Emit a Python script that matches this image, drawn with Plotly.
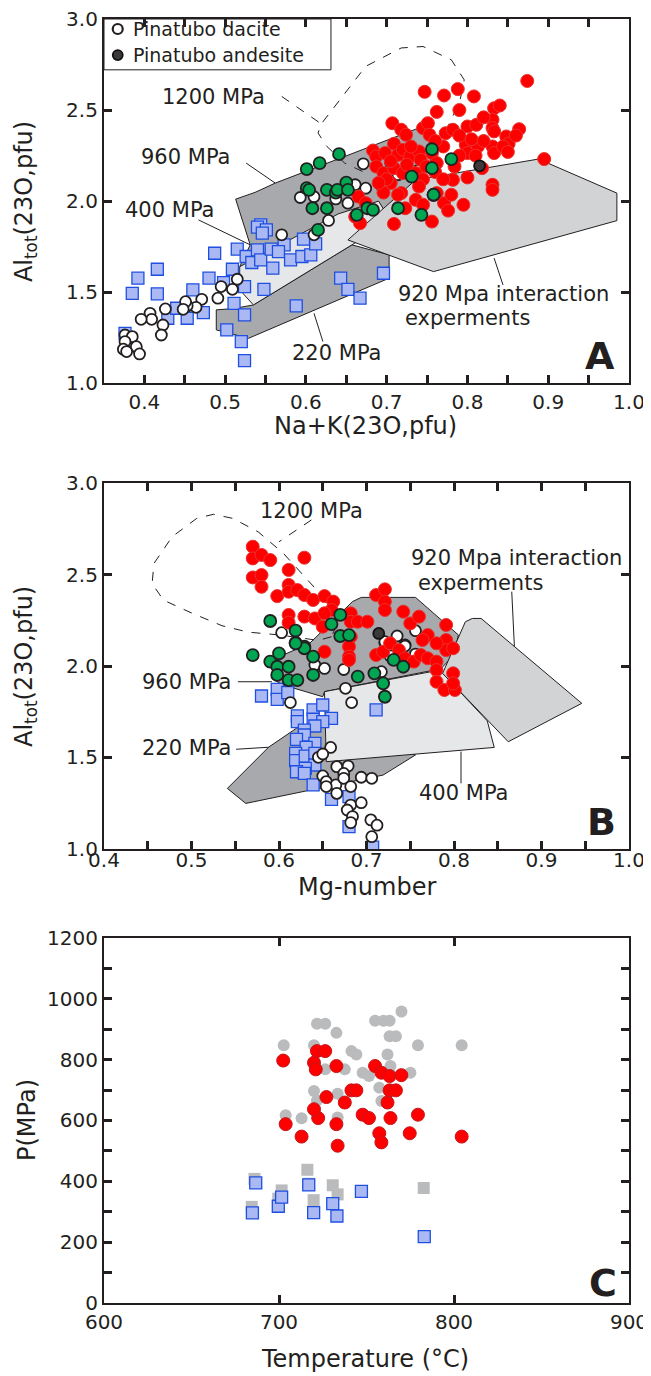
import plotly.graph_objects as go

# ---------------- Panel A data (Na+K vs Al_tot) ----------------
A_red_x = [0.874,0.747,0.771,0.788,0.808,0.762,0.833,0.840,0.831,0.707,0.718,0.724,0.745,0.751,0.753,0.773,0.782,0.800,0.811,0.831,0.864,0.848,0.851,0.833,0.798,0.800,0.813,0.831,0.833,0.844,0.895,0.683,0.687,0.698,0.709,0.714,0.720,0.729,0.740,0.742,0.756,0.782,0.831,0.687,0.696,0.709,0.720,0.762,0.818,0.784,0.736,0.749,0.705,0.718,0.665,0.674,0.696,0.714,0.736,0.745,0.771,0.776,0.780,0.795,0.831,0.667,0.709,0.756,0.661,0.723,0.762,0.700,0.745,0.790,0.770,0.805,0.760,0.725,0.760,0.790,0.810,0.820,0.740,0.690,0.770,0.800,0.850,0.860,0.790,0.820,0.730,0.705]
A_red_y = [2.66,2.60,2.58,2.615,2.575,2.49,2.51,2.525,2.447,2.428,2.392,2.364,2.401,2.428,2.364,2.373,2.392,2.410,2.419,2.401,2.395,2.355,2.315,2.383,2.309,2.264,2.300,2.300,2.264,2.300,2.231,2.278,2.245,2.264,2.315,2.254,2.282,2.245,2.273,2.227,2.264,2.117,2.090,2.190,2.154,2.181,2.154,2.209,2.181,2.190,2.154,2.190,2.099,2.044,2.025,1.989,2.047,2.035,2.007,1.980,1.989,1.948,2.035,1.980,2.062,1.879,1.875,1.888,1.915,1.961,2.044,2.120,2.120,2.250,2.300,2.340,2.160,2.200,2.330,2.360,2.250,2.330,2.080,2.100,2.120,2.130,2.270,2.360,2.500,2.460,2.300,2.220]
A_green_x = [0.641,0.617,0.601,0.601,0.626,0.650,0.637,0.756,0.780,0.756,0.731,0.758,0.608,0.626,0.663,0.676,0.683,0.714,0.743,0.758,0.615,0.639,0.652,0.604]
A_green_y = [2.258,2.209,2.176,2.071,2.062,2.102,2.047,2.285,2.231,2.181,2.135,2.035,1.961,1.961,1.925,1.961,1.952,1.961,1.925,2.035,1.842,2.062,2.062,2.062]
A_and_x = [0.815]
A_and_y = [2.194]
A_dac_x = [0.671,0.705,0.701,0.714,0.740,0.661,0.674,0.694,0.593,0.610,0.637,0.652,0.628,0.570,0.610,0.515,0.509,0.495,0.491,0.471,0.464,0.453,0.451,0.448,0.426,0.407,0.409,0.396,0.423,0.421,0.376,0.385,0.376,0.390,0.374,0.378,0.394]
A_dac_y = [2.205,2.209,2.135,2.145,2.172,2.090,2.071,2.080,2.020,2.024,2.012,1.989,1.894,1.815,1.815,1.571,1.516,1.531,1.467,1.461,1.417,1.425,1.448,1.406,1.408,1.384,1.351,1.351,1.320,1.265,1.265,1.256,1.229,1.201,1.187,1.174,1.161]
A_sq_x = [0.544,0.540,0.551,0.546,0.487,0.515,0.526,0.540,0.533,0.544,0.557,0.573,0.566,0.581,0.595,0.606,0.612,0.597,0.559,0.509,0.498,0.480,0.460,0.416,0.392,0.385,0.416,0.524,0.548,0.511,0.524,0.473,0.453,0.429,0.440,0.376,0.502,0.520,0.524,0.588,0.643,0.652,0.667,0.696]
A_sq_y = [1.870,1.857,1.842,1.824,1.714,1.736,1.696,1.732,1.663,1.677,1.736,1.760,1.723,1.677,1.696,1.705,1.765,1.791,1.632,1.626,1.553,1.577,1.513,1.626,1.577,1.494,1.491,1.531,1.516,1.439,1.375,1.388,1.357,1.357,1.412,1.274,1.293,1.229,1.124,1.425,1.577,1.516,1.467,1.604]

# Panel A fields
A960_x = [0.513,0.537,0.562,0.736,0.745,0.765,0.740,0.660,0.518,0.531]
A960_y = [2.011,2.048,2.099,2.395,2.373,2.300,2.120,1.800,1.640,1.760]
A220_x = [0.489,0.489,0.529,0.703,0.703,0.657,0.535,0.510]
A220_y = [1.403,1.293,1.247,1.577,1.705,1.760,1.430,1.410]
A400_x = [0.518,0.518,0.535,0.657,0.705,0.690,0.640]
A400_y = [1.640,1.513,1.430,1.760,1.890,2.000,1.930]
A920_x = [0.652,0.736,0.888,0.985,0.985,0.758]
A920_y = [1.787,2.117,2.231,2.044,1.893,1.613]
A1200_x = [0.670,0.648,0.626,0.615,0.619,0.674,0.718,0.745,0.780,0.796,0.791,0.780,0.765]
A1200_y = [2.163,2.209,2.300,2.374,2.424,2.740,2.841,2.849,2.776,2.666,2.557,2.447,2.319]

# ---------------- Panel B data (Mg-number vs Al_tot) ----------------
B_red_x = [0.570,0.570,0.580,0.590,0.629,0.570,0.580,0.580,0.611,0.598,0.611,0.611,0.621,0.629,0.639,0.652,0.662,0.660,0.611,0.611,0.629,0.641,0.652,0.650,0.682,0.682,0.690,0.701,0.711,0.721,0.721,0.721,0.742,0.750,0.760,0.770,0.791,0.791,0.682,0.652,0.680,0.680,0.680,0.711,0.719,0.727,0.737,0.744,0.754,0.762,0.770,0.780,0.780,0.791,0.799,0.799,0.780,0.789,0.801,0.799,0.764,0.780]
B_red_y = [2.652,2.588,2.607,2.579,2.592,2.484,2.497,2.433,2.525,2.382,2.443,2.406,2.415,2.388,2.361,2.382,2.352,2.306,2.279,2.237,2.270,2.260,2.288,2.215,2.288,2.242,2.242,2.242,2.388,2.419,2.352,2.306,2.297,2.233,2.270,2.169,2.224,2.142,2.160,2.078,2.106,2.051,2.033,2.060,2.078,2.124,2.087,2.042,2.024,2.060,2.042,2.024,1.978,2.087,2.097,1.960,1.914,1.869,1.869,1.905,2.142,2.124]
B_green_x = [0.590,0.619,0.619,0.629,0.660,0.670,0.670,0.680,0.570,0.600,0.590,0.598,0.611,0.598,0.611,0.621,0.639,0.639,0.629,0.619,0.690,0.709,0.719,0.721,0.731,0.742]
B_green_y = [2.246,2.193,2.127,2.106,2.229,2.279,2.164,2.169,2.060,2.069,2.024,1.996,1.996,1.951,1.923,1.923,1.951,2.051,2.097,2.124,1.942,1.960,1.905,1.832,2.033,1.996]
B_and_x = [0.714]
B_and_y = [2.178]
B_dac_x = [0.603,0.721,0.735,0.744,0.756,0.641,0.652,0.674,0.676,0.683,0.613,0.717,0.727,0.744,0.756,0.721,0.659,0.645,0.650,0.666,0.679,0.674,0.650,0.654,0.665,0.674,0.682,0.694,0.706,0.666,0.654,0.682,0.694,0.678,0.684,0.682,0.705,0.706,0.712]
B_dac_y = [2.182,2.127,2.164,2.115,2.193,2.005,1.987,1.981,1.878,1.800,1.800,1.969,2.055,2.109,2.065,2.133,1.555,1.501,1.519,1.450,1.453,1.413,1.399,1.368,1.350,1.386,1.341,1.392,1.386,1.304,1.341,1.240,1.253,1.213,1.177,1.144,1.159,1.067,1.130]
B_sq_x = [0.580,0.598,0.598,0.610,0.621,0.621,0.639,0.639,0.650,0.660,0.650,0.641,0.629,0.629,0.620,0.641,0.631,0.619,0.619,0.630,0.641,0.641,0.630,0.620,0.629,0.639,0.660,0.680,0.680,0.711,0.707]
B_sq_y = [1.836,1.872,1.818,1.854,1.727,1.696,1.760,1.709,1.787,1.714,1.696,1.672,1.650,1.623,1.599,1.577,1.555,1.523,1.483,1.508,1.523,1.459,1.441,1.422,1.413,1.350,1.271,1.286,1.122,1.760,1.010]

B960_x = [0.592,0.600,0.635,0.684,0.694,0.756,0.805,0.800,0.785,0.652,0.650,0.605]
B960_y = [1.930,2.050,2.124,2.352,2.375,2.375,2.170,2.060,1.985,1.860,1.832,1.896]
B220_x = [0.541,0.562,0.719,0.756,0.700,0.654,0.620,0.588]
B220_y = [1.331,1.249,1.404,1.514,1.600,1.720,1.660,1.556]
B400_x = [0.652,0.774,0.787,0.838,0.846,0.654]
B400_y = [1.860,1.969,1.960,1.700,1.555,1.477]
B920_x = [0.787,0.800,0.813,0.821,0.831,0.946,0.862]
B920_y = [1.960,2.100,2.242,2.260,2.260,1.796,1.586]
B1200_x = [0.660,0.645,0.600,0.565,0.535,0.500,0.468,0.455,0.457,0.478,0.506,0.525,0.547,0.576,0.605,0.633,0.650,0.662,0.665,0.660]
B1200_y = [2.160,2.140,2.170,2.185,2.220,2.290,2.360,2.450,2.560,2.707,2.807,2.829,2.807,2.734,2.616,2.470,2.379,2.290,2.215,2.160]

# ---------------- Panel C data (T vs P) ----------------
C_grayc_T = [702.7,770,721.7,726.4,732.8,754.9,759.7,763.2,763.2,766.8,779.4,804.4,720,741.4,744.2,762,726.4,737.6,747.8,751.4,763.7,775.1,757.3,720,733.5,721.7,758.5,703.8,712.9,733.5,763]
C_grayc_P = [847,958,918,918,888,928,928,928,877,877,847,847,847,828,817,817,768,768,757,746,779,757,708,697,688,666,664,617,607,610,757]
C_red_T = [702.4,703.8,712.9,720,721,721.7,726.4,722.4,720,727.1,732.8,732.8,733.5,737.6,741.4,744.2,747.8,751.4,754.9,758.5,757.3,758.5,763.2,762,763.2,766.8,763.7,769.9,774.7,779.4,804.4]
C_red_P = [797,588,547,790,768,828,828,608,637,677,779,588,517,659,699,699,619,608,779,757,558,528,746,659,699,699,608,749,558,619,547]
C_grays_T = [686,684.4,701.5,699.6,716.2,719.8,730.7,733.5,782.7,717]
C_grays_P = [408,316,370,343,438,338,387,357,378,392]
C_blue_T = [686.7,684.8,699.6,701.5,717,719.8,730.7,733.1,747.1,783]
C_blue_P = [395,296,318,348,388,297,327,286,367,218]

# legend entries and axis titles
legend_names = ["Pinatubo dacite", "Pinatubo andesite"]
A_xtitle = "Na+K(23O,pfu)"
AB_ytitle = "Al<sub>tot</sub>(23O,pfu)"
B_xtitle = "Mg-number"
C_xtitle = "Temperature (°C)"
C_ytitle = "P(MPa)"

# tick labels
A_xticks = [0.40,0.45,0.50,0.55,0.60,0.65,0.70,0.75,0.80,0.85,0.90,0.95,1.00]
A_xtext = ["0.4","","0.5","","0.6","","0.7","","0.8","","0.9","","1.0"]
B_xticks = [0.40,0.45,0.50,0.55,0.60,0.65,0.70,0.75,0.80,0.85,0.90,0.95,1.00]
B_xtext = ["0.4","","0.5","","0.6","","0.7","","0.8","","0.9","","1.0"]
AB_yticks = [1.0,1.5,2.0,2.5,3.0]
AB_ytext = ["1.0","1.5","2.0","2.5","3.0"]
C_xticks = [600,700,800,900]
C_xtext = ["600","700","800","900"]
C_yticks = list(range(0,1300,100))
C_ytext = [str(v) if v % 200 == 0 else "" for v in C_yticks]

INK = "#231f20"
FONT = "DejaVu Sans, Arial, sans-serif"
DARK = "#a7a9ac"
LIGHT = "#e6e7e8"
MID = "#d1d3d4"

fig = go.Figure()

def poly(x, y, color, xa, ya):
    fig.add_trace(go.Scatter(x=x + [x[0]], y=y + [y[0]], mode="lines", fill="toself",
                             fillcolor=color, line=dict(color=INK, width=1),
                             xaxis=xa, yaxis=ya, showlegend=False, hoverinfo="skip"))

def line(x, y, xa, ya, dash="solid"):
    fig.add_trace(go.Scatter(x=x, y=y, mode="lines", line=dict(color=INK, width=1, dash=dash),
                             xaxis=xa, yaxis=ya, showlegend=False, hoverinfo="skip"))

def pts(x, y, xa, ya, symbol, size, fill, lc, lw):
    fig.add_trace(go.Scatter(x=x, y=y, mode="markers",
                             marker=dict(symbol=symbol, size=size, color=fill,
                                         line=dict(color=lc, width=lw)),
                             xaxis=xa, yaxis=ya, showlegend=False))

# ---- Panel A ----
poly(A960_x, A960_y, DARK, "x", "y")
poly(A220_x, A220_y, DARK, "x", "y")
poly(A400_x, A400_y, LIGHT, "x", "y")
poly(A920_x, A920_y, MID, "x", "y")
line(A1200_x, A1200_y, "x", "y", "dash")
line([0.570, 0.619], [2.575, 2.424], "x", "y", "dash")
line([0.526, 0.562], [2.209, 2.099], "x", "y")
line([0.467, 0.531], [1.897, 1.760], "x", "y")
line([0.833, 0.844], [1.687, 1.540], "x", "y")
line([0.610, 0.621], [1.384, 1.229], "x", "y")
pts(A_sq_x, A_sq_y, "x", "y", "square", 12, "#aab9f4", "#1f4fe0", 1.3)
pts(A_dac_x, A_dac_y, "x", "y", "circle", 11, "white", INK, 1.8)
pts(A_red_x, A_red_y, "x", "y", "circle", 13, "#ff0000", "#e8322f", 1)
pts(A_green_x, A_green_y, "x", "y", "circle", 12, "#00a651", INK, 1.8)
pts(A_and_x, A_and_y, "x", "y", "circle", 11, "#3d393a", "#111111", 1.8)
# legend markers (inside panel A box)
pts([0.367], [2.945], "x", "y", "circle", 10, "white", INK, 2.2)
pts([0.367], [2.802], "x", "y", "circle", 10, "#3d393a", "#111111", 1.8)

# ---- Panel B ----
poly(B960_x, B960_y, DARK, "x2", "y2")
poly(B220_x, B220_y, DARK, "x2", "y2")
poly(B400_x, B400_y, LIGHT, "x2", "y2")
poly(B920_x, B920_y, MID, "x2", "y2")
line(B1200_x, B1200_y, "x2", "y2", "dash")
line([0.637, 0.600], [2.798, 2.679], "x2", "y2", "dash")
line([0.866, 0.869], [2.406, 2.107], "x2", "y2")
line([0.553, 0.592], [1.914, 1.914], "x2", "y2")
line([0.551, 0.588], [1.545, 1.556], "x2", "y2")
line([0.808, 0.808], [1.532, 1.359], "x2", "y2")
pts(B_sq_x, B_sq_y, "x2", "y2", "square", 12, "#aab9f4", "#1f4fe0", 1.3)
pts(B_dac_x, B_dac_y, "x2", "y2", "circle", 11, "white", INK, 1.8)
pts(B_red_x, B_red_y, "x2", "y2", "circle", 13, "#ff0000", "#e8322f", 1)
pts(B_green_x, B_green_y, "x2", "y2", "circle", 12, "#00a651", INK, 1.8)
pts(B_and_x, B_and_y, "x2", "y2", "circle", 11, "#3d393a", "#111111", 1.8)

# ---- Panel C ----
pts(C_grayc_T, C_grayc_P, "x3", "y3", "circle", 12, "#b9bbbd", "#b9bbbd", 0)
pts(C_grays_T, C_grays_P, "x3", "y3", "square", 12, "#b9bbbd", "#b9bbbd", 0)
pts(C_red_T, C_red_P, "x3", "y3", "circle", 13, "#ff0000", "#c4161c", 1)
pts(C_blue_T, C_blue_P, "x3", "y3", "square", 12, "#aab9f4", "#1f4fe0", 1.3)

ann = []
def txt(x, y, s, xr, yr, size=21, bold=False, xanchor="center", angle=0):
    ann.append(dict(x=x, y=y, text=("<b>%s</b>" % s) if bold else s, xref=xr, yref=yr,
                    xanchor=xanchor, yanchor="middle", showarrow=False, textangle=angle,
                    font=dict(family=FONT, size=size, color=INK)))

txt(0.383, 2.945, legend_names[0], "x", "y", 19, xanchor="left")
txt(0.383, 2.802, legend_names[1], "x", "y", 19, xanchor="left")

txt(0.486, 2.573, "1200 MPa", "x", "y")
txt(0.451, 2.243, "960 MPa", "x", "y")
txt(0.431, 1.952, "400 MPa", "x", "y")
txt(0.844, 1.491, "920 Mpa interaction", "x", "y")
txt(0.800, 1.359, "experments", "x", "y")
txt(0.638, 1.166, "220 MPa", "x", "y")
txt(0.964, 1.15, "A", "x", "y", 38, True)

txt(0.637, 2.847, "1200 MPa", "x2", "y2")
txt(0.871, 2.590, "920 Mpa interaction", "x2", "y2")
txt(0.830, 2.454, "experments", "x2", "y2")
txt(0.494, 1.913, "960 MPa", "x2", "y2")
txt(0.494, 1.552, "220 MPa", "x2", "y2")
txt(0.811, 1.306, "400 MPa", "x2", "y2")
txt(0.968, 1.145, "B", "x2", "y2", 38, True)

txt(885, 67, "C", "x3", "y3", 38, True)

# axis titles (paper coords)
txt(0.499, 0.6830, A_xtitle, "paper", "paper", 24)
txt(-0.1505, 0.8582, AB_ytitle, "paper", "paper", 24, angle=-90)
txt(0.501, 0.3240, B_xtitle, "paper", "paper", 24)
txt(-0.1505, 0.4961, AB_ytitle, "paper", "paper", 24, angle=-90)
txt(0.497, -0.0436, C_xtitle, "paper", "paper", 24)
txt(-0.1467, 0.1425, C_ytitle, "paper", "paper", 24, angle=-90)

shapes = [dict(type="rect", xref="x", yref="y", x0=0.35, x1=0.631, y0=2.721, y1=3.0,
               line=dict(color=INK, width=1), fillcolor="white", layer="below")]

axis_common = dict(showline=True, mirror="ticks", linecolor=INK, linewidth=2.2,
                   ticks="inside", ticklen=8, tickwidth=2.5, tickcolor=INK,
                   showgrid=False, zeroline=False, automargin=False,
                   ticklabeloverflow="allow",
                   tickfont=dict(family=FONT, size=20, color=INK))

fig.update_layout(
    width=643, height=1368,
    margin=dict(l=96, r=22, t=11, b=73, autoexpand=False),
    plot_bgcolor="white", paper_bgcolor="white",
    annotations=ann, shapes=shapes,
    showlegend=False,
    xaxis=dict(domain=[0, 1], anchor="y", range=[0.35, 1.0], tickvals=A_xticks, ticktext=A_xtext, **axis_common),
    yaxis=dict(domain=[0.7163, 1.0], anchor="x", range=[1.0, 3.0], tickvals=AB_yticks, ticktext=AB_ytext, **axis_common),
    xaxis2=dict(domain=[0, 1], anchor="y2", range=[0.4, 1.0], tickvals=B_xticks, ticktext=B_xtext,
                ticklabelstandoff=-8, **axis_common),
    yaxis2=dict(domain=[0.3536, 0.6386], anchor="x2", range=[1.0, 3.0], tickvals=AB_yticks, ticktext=AB_ytext, **axis_common),
    xaxis3=dict(domain=[0, 1], anchor="y3", range=[600, 900], tickvals=C_xticks, ticktext=C_xtext, **axis_common),
    yaxis3=dict(domain=[0, 0.2843], anchor="x3", range=[0, 1200], tickvals=C_yticks, ticktext=C_ytext, **axis_common),
)

fig.write_html("out.html")
